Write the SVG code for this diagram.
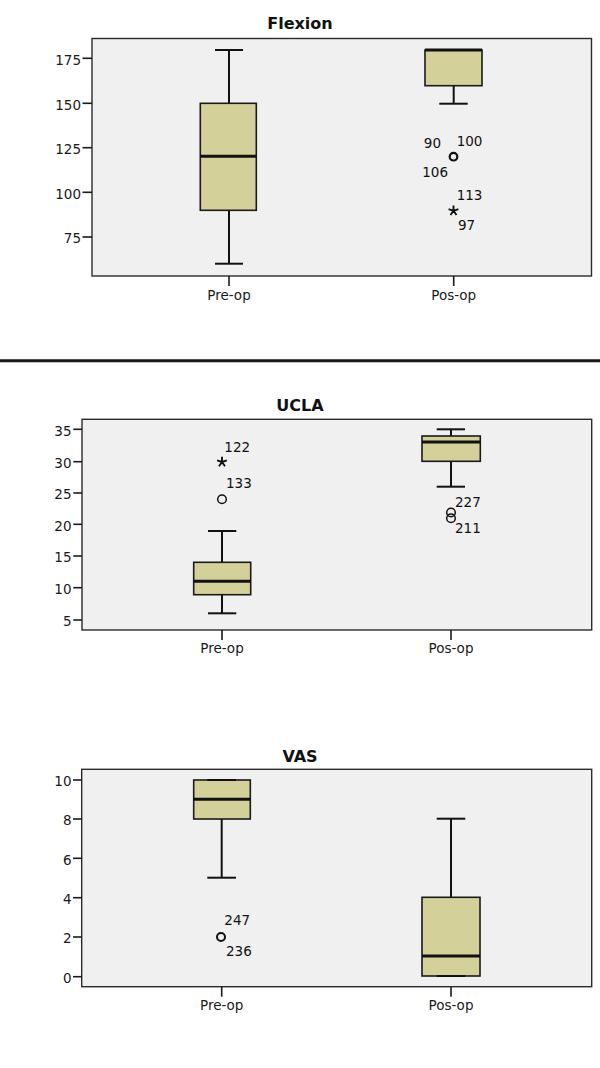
<svg xmlns="http://www.w3.org/2000/svg" width="600" height="1068" viewBox="0 0 600 1068">
<style>
.bg{fill:#ffffff}
.frame{fill:#f0f0f0;stroke:#2b2b2b;stroke-width:1.4}
.tick{stroke:#1a1a1a;stroke-width:1.6}
.ylab{font-family:"DejaVu Sans",sans-serif;font-size:13.5px;fill:#1a1a1a;text-anchor:end}
.xlab{font-family:"DejaVu Sans",sans-serif;font-size:13.5px;fill:#1a1a1a;text-anchor:middle}
.title{font-family:"DejaVu Sans",sans-serif;font-size:16px;font-weight:bold;fill:#111;text-anchor:middle}
.olab{font-family:"DejaVu Sans",sans-serif;font-size:13.5px;fill:#111}
.box{fill:#d4d09a;stroke:#1a1a1a;stroke-width:1.6}
.wh{stroke:#111;stroke-width:2}
.med{stroke:#111;stroke-width:3}
.out{fill:none;stroke:#111;stroke-width:1.5}
.star{fill:none;stroke:#111;stroke-width:1.9;stroke-linecap:butt}
</style>
<defs>
<path id="starmark" class="star" d="M0 0L0 -5.2M0 0L4.9 -1.6M0 0L3 4.2M0 0L-3 4.2M0 0L-4.9 -1.6"/>
</defs>
<rect class="bg" x="0" y="0" width="600" height="1068"/>

<g id="flexion">
<text class="title" x="300" y="29">Flexion</text>
<rect class="frame" x="92" y="38.5" width="499.5" height="237.5"/>
<g id="flexion-axes">
<line class="tick" x1="82.5" y1="58.3" x2="92" y2="58.3"/>
<line class="tick" x1="82.5" y1="103.3" x2="92" y2="103.3"/>
<line class="tick" x1="82.5" y1="147.7" x2="92" y2="147.7"/>
<line class="tick" x1="82.5" y1="192.3" x2="92" y2="192.3"/>
<line class="tick" x1="82.5" y1="237" x2="92" y2="237"/>
<text class="ylab" x="81" y="64.5">175</text>
<text class="ylab" x="81" y="109.5">150</text>
<text class="ylab" x="81" y="154">125</text>
<text class="ylab" x="81" y="198.5">100</text>
<text class="ylab" x="81" y="243">75</text>
<line class="tick" x1="229" y1="276" x2="229" y2="286"/>
<line class="tick" x1="453.7" y1="276" x2="453.7" y2="286"/>
<text class="xlab" x="229" y="299.5">Pre-op</text>
<text class="xlab" x="453.7" y="299.5">Pos-op</text>
</g>
<g id="flexion-preop">
<line class="wh" x1="229" y1="50" x2="229" y2="103.3"/>
<line class="wh" x1="229" y1="210.3" x2="229" y2="263.7"/>
<line class="wh" x1="215" y1="50" x2="243" y2="50"/>
<line class="wh" x1="215" y1="263.7" x2="243" y2="263.7"/>
<rect class="box" x="200.3" y="103.3" width="56" height="107"/>
<line class="med" x1="200.3" y1="156.3" x2="256.3" y2="156.3"/>
</g>
<g id="flexion-posop">
<line class="wh" x1="453.7" y1="85.7" x2="453.7" y2="103.7"/>
<line class="wh" x1="439.3" y1="103.7" x2="467.7" y2="103.7"/>
<rect class="box" x="425" y="50" width="57" height="35.7"/>
<line class="med" x1="425" y1="50" x2="482" y2="50"/>
<circle class="out" cx="453.5" cy="156.7" r="3.8" style="stroke-width:2.2"/>
<use href="#starmark" x="453.5" y="210.8"/>
<text class="olab" x="441" y="148" text-anchor="end">90</text>
<text class="olab" x="456.7" y="145.7">100</text>
<text class="olab" x="448" y="176.7" text-anchor="end">106</text>
<text class="olab" x="456.7" y="200">113</text>
<text class="olab" x="458" y="230">97</text>
</g>
</g>

<line id="separator" x1="0" y1="360.7" x2="600" y2="360.7" stroke="#161616" stroke-width="3"/>

<g id="ucla">
<text class="title" x="300" y="411">UCLA</text>
<rect class="frame" x="82" y="419.3" width="509.7" height="210.7"/>
<g id="ucla-axes">
<line class="tick" x1="73.3" y1="429.3" x2="82" y2="429.3"/>
<line class="tick" x1="73.3" y1="461.7" x2="82" y2="461.7"/>
<line class="tick" x1="73.3" y1="493" x2="82" y2="493"/>
<line class="tick" x1="73.3" y1="524.3" x2="82" y2="524.3"/>
<line class="tick" x1="73.3" y1="556" x2="82" y2="556"/>
<line class="tick" x1="73.3" y1="587.7" x2="82" y2="587.7"/>
<line class="tick" x1="73.3" y1="620" x2="82" y2="620"/>
<text class="ylab" x="71.5" y="435.5">35</text>
<text class="ylab" x="71.5" y="468">30</text>
<text class="ylab" x="71.5" y="499.3">25</text>
<text class="ylab" x="71.5" y="530.6">20</text>
<text class="ylab" x="71.5" y="562.3">15</text>
<text class="ylab" x="71.5" y="594">10</text>
<text class="ylab" x="71.5" y="626.3">5</text>
<line class="tick" x1="222" y1="630" x2="222" y2="640"/>
<line class="tick" x1="451" y1="630" x2="451" y2="640"/>
<text class="xlab" x="222" y="653">Pre-op</text>
<text class="xlab" x="451" y="653">Pos-op</text>
</g>
<g id="ucla-preop">
<line class="wh" x1="222" y1="531" x2="222" y2="562.3"/>
<line class="wh" x1="222" y1="594.7" x2="222" y2="613.3"/>
<line class="wh" x1="208" y1="531" x2="236.3" y2="531"/>
<line class="wh" x1="208" y1="613.3" x2="236.3" y2="613.3"/>
<rect class="box" x="193.7" y="562.3" width="57" height="32.4"/>
<line class="med" x1="193.7" y1="581.3" x2="250.7" y2="581.3"/>
<use href="#starmark" x="222" y="462"/>
<circle class="out" cx="222" cy="499.3" r="4.3"/>
<text class="olab" x="224.3" y="451.7">122</text>
<text class="olab" x="226" y="488.3">133</text>
</g>
<g id="ucla-posop">
<line class="wh" x1="451" y1="429.3" x2="451" y2="436"/>
<line class="wh" x1="451" y1="461.3" x2="451" y2="486.7"/>
<line class="wh" x1="436.7" y1="429.3" x2="465" y2="429.3"/>
<line class="wh" x1="436.7" y1="486.7" x2="465" y2="486.7"/>
<rect class="box" x="422" y="436" width="58.3" height="25.3"/>
<line class="med" x1="422" y1="442" x2="480.3" y2="442"/>
<circle class="out" cx="451" cy="512.5" r="4.3"/>
<circle class="out" cx="451" cy="518.3" r="4.3"/>
<text class="olab" x="455" y="506.7">227</text>
<text class="olab" x="455" y="532.7">211</text>
</g>
</g>

<g id="vas">
<text class="title" x="300" y="761.7">VAS</text>
<rect class="frame" x="81.7" y="769.3" width="510" height="217.4"/>
<g id="vas-axes">
<line class="tick" x1="73" y1="780" x2="81.7" y2="780"/>
<line class="tick" x1="73" y1="819" x2="81.7" y2="819"/>
<line class="tick" x1="73" y1="858.3" x2="81.7" y2="858.3"/>
<line class="tick" x1="73" y1="897.7" x2="81.7" y2="897.7"/>
<line class="tick" x1="73" y1="937" x2="81.7" y2="937"/>
<line class="tick" x1="73" y1="976.7" x2="81.7" y2="976.7"/>
<text class="ylab" x="71.5" y="786.3">10</text>
<text class="ylab" x="71.5" y="825.3">8</text>
<text class="ylab" x="71.5" y="864.6">6</text>
<text class="ylab" x="71.5" y="904">4</text>
<text class="ylab" x="71.5" y="943.3">2</text>
<text class="ylab" x="71.5" y="983">0</text>
<line class="tick" x1="221.7" y1="986.7" x2="221.7" y2="996.7"/>
<line class="tick" x1="451" y1="986.7" x2="451" y2="996.7"/>
<text class="xlab" x="221.7" y="1010">Pre-op</text>
<text class="xlab" x="451" y="1010">Pos-op</text>
</g>
<g id="vas-preop">
<line class="wh" x1="221.7" y1="819" x2="221.7" y2="877.7"/>
<line class="wh" x1="207.3" y1="877.7" x2="236" y2="877.7"/>
<rect class="box" x="193.7" y="780" width="56.6" height="39"/>
<line class="wh" x1="207.3" y1="780" x2="236" y2="780"/>
<line class="med" x1="193.7" y1="799.3" x2="250.3" y2="799.3"/>
<circle class="out" cx="221" cy="937" r="4" style="stroke-width:2"/>
<text class="olab" x="224.3" y="925">247</text>
<text class="olab" x="226" y="956">236</text>
</g>
<g id="vas-posop">
<line class="wh" x1="451" y1="818.7" x2="451" y2="897.3"/>
<line class="wh" x1="436.7" y1="818.7" x2="465.3" y2="818.7"/>
<rect class="box" x="422" y="897.3" width="58" height="78.7"/>
<line class="wh" x1="436.7" y1="976" x2="465.3" y2="976"/>
<line class="med" x1="422" y1="956" x2="480" y2="956"/>
</g>
</g>
</svg>
